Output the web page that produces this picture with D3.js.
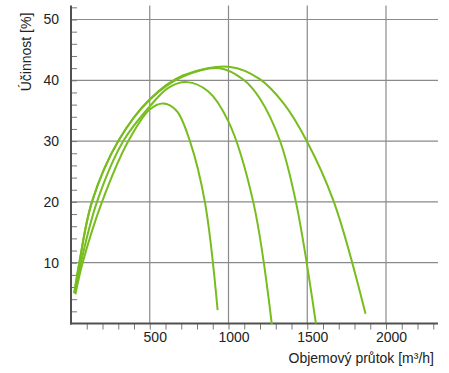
<!DOCTYPE html>
<html><head><meta charset="utf-8">
<script src="https://cdn.jsdelivr.net/npm/d3@7"></script>
<style>body{margin:0;background:#fff}svg{display:block}text{font-family:"Liberation Sans",Arial,sans-serif}</style>
</head><body><svg id="c" width="449" height="373"></svg>
<script>
const xTickLabels = [500, 1000, 1500, 2000];
const yTickLabels = [10, 20, 30, 40, 50];
const curve1 = [[28,4.8],[74,10],[197,20],[364,30],[500,35.2],[585,36.2],[670,35],[755,30],[850,20],[931,2.2]];
const curve2 = [[25,5],[63,10],[165,20],[332,30],[500,35.7],[620,38.8],[736,39.7],[870,38.2],[1000,33.2],[1157,20],[1275,-0.1]];
const curve3 = [[22,5],[53,10],[133,20],[300,30],[500,36.8],[710,40.6],[945,42.0],[1100,40],[1199,37.0],[1326,30.1],[1428,20],[1555,0]];
const curve4 = [[20,5],[53,10],[133,20],[300,30],[500,36.9],[710,40.8],[1010,42.2],[1199,40.2],[1350,36.2],[1495,30.1],[1669,20],[1870,1.6]];
const series = [curve1, curve2, curve3, curve4];

const svg = d3.select("#c");
const x = d3.scaleLinear().domain([0, 2000]).range([71, 386]);
const y = d3.scaleLinear().domain([0, 50]).range([323.5, 19.5]);
const xMax = 2330, yMax = 52.3;

// grid
const g = svg.append("g");
g.selectAll(".hg").data(yTickLabels).enter().append("line")
  .attr("x1", x(0)).attr("x2", x(xMax)).attr("y1", d => y(d)).attr("y2", d => y(d))
  .attr("stroke", "#8a8a8a").attr("stroke-width", 1.2);
g.selectAll(".vg").data(xTickLabels).enter().append("line")
  .attr("x1", d => x(d)).attr("x2", d => x(d)).attr("y1", y(0)).attr("y2", y(yMax))
  .attr("stroke", "#8a8a8a").attr("stroke-width", 1.2);

// x axis
const xAxis = d3.axisBottom(x).tickValues(d3.range(100, 2400, 100)).tickSize(6).tickFormat(d => xTickLabels.includes(d) ? d : "");
const xa = svg.append("g").attr("transform", `translate(0,${y(0)})`).call(xAxis);
xa.select(".domain").remove();
xa.selectAll(".tick line").attr("stroke", "#777");
xa.selectAll(".tick text").attr("font-size", 14).attr("fill", "#222").attr("x", 5).attr("y", 9).attr("dy", "0.71em").attr("font-family", "Liberation Sans, Arial, sans-serif");

// y axis
const yAxis = d3.axisRight(y).tickValues(d3.range(2, 54, 2)).tickSize(6).tickFormat("");
const ya = svg.append("g").attr("transform", `translate(${x(0)},0)`).call(yAxis);
ya.select(".domain").remove();
ya.selectAll(".tick line").attr("stroke", "#777");
svg.selectAll(".ylab").data(yTickLabels).enter().append("text")
  .attr("x", 59).attr("y", d => y(d)).attr("dy", "0.35em").attr("text-anchor", "end")
  .attr("font-size", 14).attr("fill", "#222").text(d => d);

// axis lines
svg.append("line").attr("x1", x(0)).attr("x2", x(0)).attr("y1", y(0)+1).attr("y2", y(yMax)).attr("stroke", "#505050").attr("stroke-width", 2);
svg.append("line").attr("x1", x(0)-1).attr("x2", x(xMax)).attr("y1", y(0)).attr("y2", y(0)).attr("stroke", "#505050").attr("stroke-width", 2);

// curves
const line = d3.line().x(d => x(d[0])).y(d => y(d[1])).curve(d3.curveCatmullRom.alpha(0.5));
svg.selectAll(".curve").data(series).enter().append("path")
  .attr("d", line).attr("fill", "none").attr("stroke", "#77bd1e").attr("stroke-width", 2);

// titles
svg.append("text").attr("transform", "translate(31,52) rotate(-90)").attr("text-anchor", "middle")
  .attr("font-size", 14).attr("fill", "#222").text("Účinnost [%]");
svg.append("text").attr("x", 434).attr("y", 363).attr("text-anchor", "end")
  .attr("font-size", 14).attr("fill", "#222").text("Objemový průtok [m³/h]");
</script></body></html>
